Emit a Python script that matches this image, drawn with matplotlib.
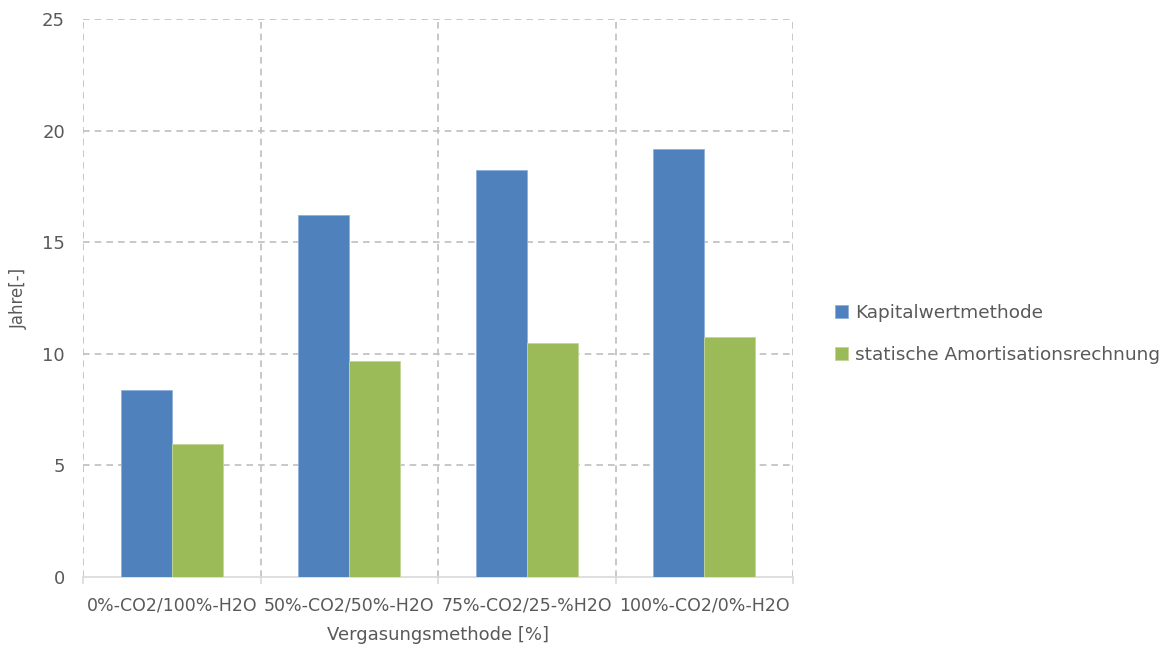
import matplotlib.pyplot as plt
import numpy as np

categories = ["0%-CO2/100%-H2O", "50%-CO2/50%-H2O", "75%-CO2/25-%H2O", "100%-CO2/0%-H2O"]
kapitalwert = [8.36, 16.22, 18.23, 19.19]
statisch = [5.95, 9.68, 10.47, 10.75]

txt = "#595959"
grid_c = "#BFBFBF"

fig = plt.figure(figsize=(11.61, 6.48), dpi=100)
ax = fig.add_axes([83/1161, 71/648, 710/1161, 558/648])

x = np.arange(len(categories))
w = 0.287
ax.bar(x - w/2, kapitalwert, w, color="#4F81BD", edgecolor="#8FB0DA", linewidth=0.6,
       label="Kapitalwertmethode", zorder=3)
ax.bar(x + w/2, statisch, w, color="#9BBB59", edgecolor="#C3D69B", linewidth=0.6,
       label="statische Amortisationsrechnung", zorder=3)

ax.set_xlim(-0.5, len(categories) - 0.5)
ax.set_ylim(0, 25)
ax.set_yticks(range(0, 26, 5))

# dashed grid: horizontal at y ticks, vertical at category boundaries
for yv in range(5, 26, 5):
    ax.axhline(yv, color=grid_c, ls=(0, (4, 3)), lw=1.2, zorder=1)
for xv in np.arange(-0.5, len(categories), 1.0):
    ax.axvline(xv, color=grid_c, ls=(0, (4, 3)), lw=1.2, zorder=1)

for s in ["top", "right", "left"]:
    ax.spines[s].set_visible(False)
ax.spines["bottom"].set_color("#D9D9D9")
ax.spines["bottom"].set_linewidth(1.2)

ax.set_xticks(x)
ax.set_xticklabels(categories, fontsize=12.5, color=txt)
ax.set_xticks(np.arange(-0.5, len(categories), 1.0), minor=True)
ax.tick_params(axis="x", which="major", length=0, pad=14)
ax.tick_params(axis="x", which="minor", length=5, color="#D9D9D9", width=1.2)
ax.tick_params(axis="y", length=0, labelsize=13, labelcolor=txt, pad=13)

ax.set_xlabel("Vergasungsmethode [%]", fontsize=13, color=txt, labelpad=8)
ax.set_ylabel("Jahre[-]", fontsize=12, color=txt, labelpad=10)

fig.legend(loc="center left", bbox_to_anchor=(818/1161, 1 - 334/648), frameon=False,
           fontsize=13.3, labelcolor=txt, handlelength=0.7, handleheight=0.7,
           handletextpad=0.4, labelspacing=1.3)

fig.savefig("out.png", dpi=100)
